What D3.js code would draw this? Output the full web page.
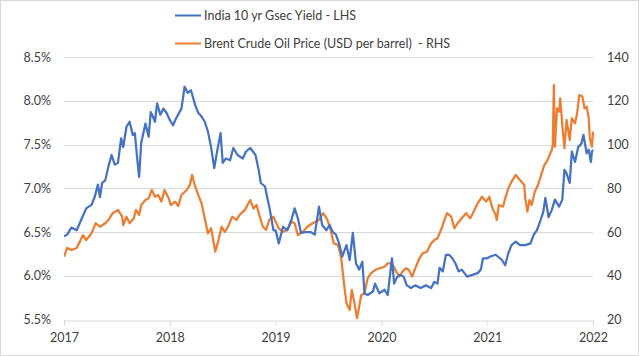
<!DOCTYPE html>
<html><head><meta charset="utf-8">
<script src="https://cdn.jsdelivr.net/npm/d3@7"></script>
<style>body{margin:0;background:#fff}svg{display:block}text{font-family:Lato,"Open Sans",sans-serif;fill:#404040;white-space:pre}</style>
</head><body><svg id="c" width="639" height="356"></svg>
<script>
// India 10y Gsec yield (%) — decimal year, value
const yieldDates = [2017.00,2017.03,2017.07,2017.12,2017.17,2017.21,2017.26,2017.29,2017.32,2017.34,2017.36,2017.39,2017.42,2017.45,2017.48,2017.51,2017.54,2017.56,2017.59,2017.62,2017.65,2017.67,2017.69,2017.71,2017.73,2017.77,2017.80,2017.82,2017.84,2017.86,2017.88,2017.91,2017.94,2017.97,2018.00,2018.03,2018.06,2018.11,2018.14,2018.17,2018.20,2018.24,2018.27,2018.30,2018.33,2018.36,2018.39,2018.42,2018.45,2018.48,2018.50,2018.53,2018.57,2018.60,2018.64,2018.69,2018.72,2018.76,2018.81,2018.84,2018.86,2018.90,2018.92,2018.94,2018.98,2019.00,2019.03,2019.07,2019.11,2019.15,2019.18,2019.21,2019.24,2019.29,2019.33,2019.37,2019.41,2019.44,2019.48,2019.51,2019.54,2019.57,2019.60,2019.63,2019.67,2019.70,2019.73,2019.76,2019.79,2019.82,2019.84,2019.87,2019.92,2019.94,2019.98,2020.03,2020.06,2020.09,2020.10,2020.12,2020.15,2020.18,2020.21,2020.24,2020.28,2020.32,2020.37,2020.42,2020.47,2020.50,2020.53,2020.55,2020.58,2020.61,2020.64,2020.67,2020.70,2020.73,2020.76,2020.81,2020.86,2020.91,2020.94,2020.96,2021.00,2021.03,2021.08,2021.14,2021.17,2021.20,2021.23,2021.27,2021.31,2021.36,2021.41,2021.44,2021.47,2021.50,2021.53,2021.55,2021.58,2021.61,2021.64,2021.68,2021.71,2021.73,2021.75,2021.78,2021.80,2021.83,2021.86,2021.89,2021.91,2021.94,2021.96,2021.98,2021.99,2022.00];
const yieldValues = [6.45,6.47,6.55,6.52,6.66,6.77,6.81,6.90,7.04,6.90,7.06,7.09,7.25,7.38,7.27,7.29,7.57,7.47,7.70,7.76,7.61,7.63,7.36,7.13,7.52,7.74,7.59,7.87,7.82,7.76,7.97,7.84,7.91,7.86,7.78,7.72,7.80,7.91,8.16,8.09,8.12,7.95,7.86,7.82,7.76,7.65,7.47,7.23,7.44,7.63,7.29,7.34,7.32,7.46,7.38,7.34,7.42,7.46,7.38,7.21,7.06,7.02,6.90,6.79,6.52,6.52,6.37,6.56,6.52,6.64,6.77,6.66,6.49,6.50,6.50,6.47,6.79,6.58,6.52,6.58,6.50,6.47,6.37,6.22,6.35,6.18,6.49,6.14,6.07,6.16,5.80,5.78,5.82,5.91,5.80,5.84,5.78,6.10,6.20,5.91,5.99,6.01,5.99,5.89,5.86,5.89,5.86,5.89,5.86,5.93,5.91,6.09,6.05,6.24,6.24,6.20,6.14,6.05,6.07,5.99,6.01,6.03,6.07,6.20,6.20,6.22,6.24,6.18,6.12,6.26,6.35,6.39,6.35,6.35,6.37,6.47,6.52,6.62,6.73,6.89,6.67,6.75,6.87,6.79,6.87,7.21,7.17,7.06,7.42,7.30,7.47,7.51,7.61,7.40,7.44,7.30,7.42,7.44];

// Brent crude (USD per barrel)
const oilDates = [2017.00,2017.03,2017.07,2017.12,2017.15,2017.18,2017.21,2017.26,2017.30,2017.34,2017.39,2017.42,2017.46,2017.51,2017.55,2017.56,2017.59,2017.62,2017.66,2017.68,2017.71,2017.73,2017.77,2017.80,2017.83,2017.86,2017.89,2017.92,2017.95,2017.99,2018.01,2018.05,2018.08,2018.11,2018.16,2018.19,2018.21,2018.24,2018.27,2018.30,2018.33,2018.36,2018.39,2018.43,2018.46,2018.49,2018.52,2018.55,2018.59,2018.63,2018.66,2018.71,2018.76,2018.79,2018.82,2018.85,2018.88,2018.91,2018.94,2018.98,2019.00,2019.03,2019.07,2019.11,2019.15,2019.18,2019.21,2019.26,2019.30,2019.35,2019.38,2019.41,2019.45,2019.49,2019.52,2019.55,2019.59,2019.62,2019.65,2019.67,2019.70,2019.72,2019.74,2019.77,2019.79,2019.81,2019.84,2019.87,2019.90,2019.94,2019.98,2020.03,2020.06,2020.10,2020.14,2020.17,2020.20,2020.23,2020.26,2020.29,2020.32,2020.36,2020.39,2020.43,2020.47,2020.50,2020.53,2020.57,2020.59,2020.62,2020.66,2020.69,2020.72,2020.76,2020.80,2020.84,2020.88,2020.91,2020.95,2020.99,2021.02,2021.05,2021.08,2021.09,2021.11,2021.15,2021.17,2021.20,2021.23,2021.27,2021.31,2021.35,2021.36,2021.38,2021.40,2021.42,2021.45,2021.48,2021.51,2021.54,2021.57,2021.61,2021.62,2021.63,2021.64,2021.66,2021.68,2021.69,2021.71,2021.73,2021.75,2021.78,2021.80,2021.83,2021.85,2021.87,2021.90,2021.92,2021.94,2021.96,2021.97,2021.99,2022.00];
const oilValues = [48.7,52.7,51.8,52.7,55.6,58.6,56.3,59.4,64.0,62.4,64.0,65.5,68.6,70.1,67.0,63.2,67.0,64.0,66.3,70.1,67.8,72.3,74.6,75.4,79.2,76.1,76.9,73.9,79.2,75.4,72.3,73.9,71.9,76.9,79.2,81.5,86.1,80.7,76.9,73.1,66.3,59.4,61.7,51.0,56.3,62.4,60.1,62.4,67.0,65.5,67.8,70.1,74.6,70.8,72.3,67.0,62.4,60.9,65.5,67.0,64.7,61.7,60.1,60.9,64.7,64.0,58.6,60.1,62.4,64.0,64.7,65.5,68.6,65.5,60.9,54.8,54.1,48.0,35.0,27.4,24.3,33.5,28.9,20.6,25.9,31.2,32.0,38.8,41.1,42.6,43.4,44.1,45.7,45.7,41.9,39.6,41.9,43.4,42.6,39.6,43.4,48.0,50.3,51.0,54.8,56.3,57.1,61.7,64.7,68.6,67.0,61.7,64.0,66.3,68.6,66.3,70.1,73.1,76.1,73.9,76.1,70.8,67.8,65.5,72.3,71.6,75.4,80.0,83.0,86.1,83.8,81.5,75.4,69.3,74.6,72.3,78.4,81.5,86.1,90.6,92.9,97.5,99.8,127.2,99.0,116.5,115.0,121.1,108.9,98.3,111.2,102.1,112.0,109.7,114.3,122.6,121.9,116.5,117.3,112.0,102.8,99.0,105.9];

const yearTicks = [2017,2018,2019,2020,2021,2022];
const leftTicks = [5.5,6.0,6.5,7.0,7.5,8.0,8.5];
const rightTicks = [20,40,60,80,100,120,140];
const seriesNames = ["India 10 yr Gsec Yield - LHS","Brent Crude Oil Price (USD per barrel)  - RHS"];
const colors = ["#4472C4","#ED7D31"];

const svg = d3.select("#c");
const L=64, R=593, T=57, B=319.5;
const x = d3.scaleLinear().domain([2017,2022]).range([L,R]);
const yL = d3.scaleLinear().domain([5.5,8.5]).range([B,T]);
const yR = d3.scaleLinear().domain([20,140]).range([B,T]);

svg.append("rect").attr("x",0.5).attr("y",0.5).attr("width",638).attr("height",355)
  .attr("fill","#fff").attr("stroke","#d9d9d9");

svg.append("g").selectAll("line").data(leftTicks.slice(1)).join("line")
  .attr("x1",L).attr("x2",R).attr("y1",d=>Math.round(yL(d))+0.5).attr("y2",d=>Math.round(yL(d))+0.5)
  .attr("stroke","#d9d9d9").attr("stroke-width",1);

const xa = svg.append("g").attr("transform",`translate(0,${Math.round(B)+0.5})`)
  .call(d3.axisBottom(x).tickValues(yearTicks).tickFormat(d3.format("d")).tickSize(5).tickPadding(8));
xa.select(".domain").attr("stroke","#d9d9d9");
xa.selectAll(".tick line").attr("stroke","#d9d9d9");
xa.selectAll("text").attr("font-size",12.5).attr("fill","#404040").attr("font-family","Lato");

const la = svg.append("g").attr("transform",`translate(${L},0)`)
  .call(d3.axisLeft(yL).tickValues(leftTicks).tickFormat(d=>d.toFixed(1)+"%").tickSize(0).tickPadding(13));
la.select(".domain").remove();
la.selectAll("text").attr("font-size",12.5).attr("fill","#404040").attr("font-family","Lato");

const ra = svg.append("g").attr("transform",`translate(${R},0)`)
  .call(d3.axisRight(yR).tickValues(rightTicks).tickSize(0).tickPadding(14));
ra.select(".domain").remove();
ra.selectAll("text").attr("font-size",12.5).attr("fill","#404040").attr("font-family","Lato");

svg.append("clipPath").attr("id","clip").append("rect").attr("x",L).attr("y",T-20).attr("width",R-L+2).attr("height",B-T+20);

const lineY = d3.line().x((d,i)=>x(yieldDates[i])).y(d=>yL(d));
const lineO = d3.line().x((d,i)=>x(oilDates[i])).y(d=>yR(d));
const g = svg.append("g").attr("clip-path","url(#clip)");
g.append("path").attr("d",lineO(oilValues)).attr("fill","none").attr("stroke",colors[1]).attr("stroke-width",2.25).attr("stroke-linejoin","round");
g.append("path").attr("d",lineY(yieldValues)).attr("fill","none").attr("stroke",colors[0]).attr("stroke-width",2.25).attr("stroke-linejoin","round");

const leg = svg.append("g");
[15.5,43.5].forEach((yy,i)=>{
  leg.append("line").attr("x1",175).attr("x2",201).attr("y1",yy).attr("y2",yy).attr("stroke",colors[i]).attr("stroke-width",2);
  leg.append("text").attr("x",204).attr("y",yy).attr("dy","0.35em").attr("font-size",12.5).attr("fill","#404040").attr("xml:space","preserve").text(seriesNames[i]);
});
</script></body></html>
